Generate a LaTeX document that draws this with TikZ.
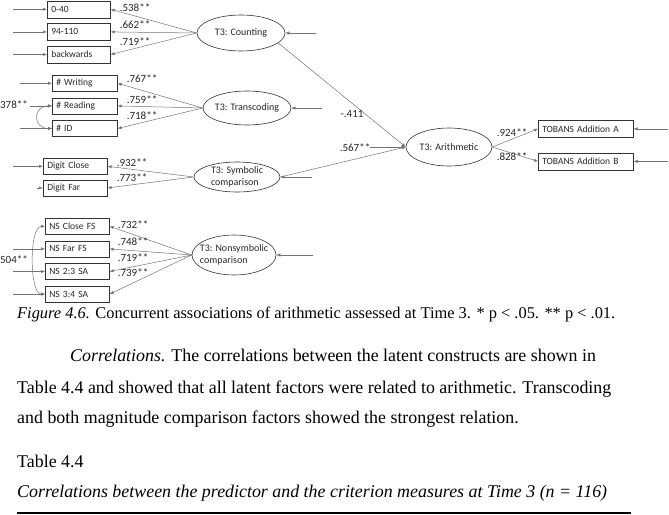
\documentclass[tikz,border=0pt]{standalone}
\usepackage{fontspec}
\setmainfont{Liberation Serif}
\newfontfamily\calibri{Carlito}
\usetikzlibrary{shapes.geometric, arrows.meta, positioning}

\begin{document}
\begin{tikzpicture}[
    x=1pt, y=-1pt,
    node distance=5pt,
    obs/.style={
        rectangle, draw=black!80, line width=0.6pt,
        text width=#1, minimum height=16pt, inner xsep=4pt, inner ysep=0pt,
        font=\calibri\fontsize{9.5}{11}\selectfont, align=left, text=black!85
    },
    latent/.style 2 args={
        ellipse, draw=black!80, line width=0.6pt,
        minimum width=#1, minimum height=#2, inner sep=0pt
    },
    lattext/.style={font=\calibri\fontsize{10}{12.5}\selectfont, align=left, text=black!85},
    coef/.style={font=\calibri\fontsize{11}{12}\selectfont, text=black!85, inner sep=0pt},
    arrow/.style={-{Latex[length=4pt,width=3.2pt]}, draw=black!55, line width=0.5pt},
    corr/.style={{Latex[length=4pt,width=3.2pt]}-{Latex[length=4pt,width=3.2pt]}, draw=black!55, line width=0.5pt},
    body/.style={font=\fontsize{17.9}{21}\selectfont, inner sep=0pt, anchor=base west},
    capt/.style={font=\fontsize{16.4}{19}\selectfont, inner sep=0pt, anchor=base west}
]
\useasboundingbox (0,0) rectangle (669,514);

% Counting
\node[obs=55, minimum height=17pt, anchor=north west] (cnt1) at (47,0.5) {0-40};
\node[obs=55, minimum height=17pt, below=5pt of cnt1] (cnt2) {94-110};
\node[obs=55, minimum height=17pt, below=5pt of cnt2] (cnt3) {backwards};
\node[latent={88}{36}, label={[lattext]center:T3: Counting}] (count) at (241,33) {};

% Transcoding
\node[obs=57, anchor=north west] (trn1) at (52,75) {\# Writing};
\node[obs=57, below=6pt of trn1] (trn2) {\# Reading};
\node[obs=57, below=6pt of trn2] (trn3) {\# ID};
\node[latent={88}{34}, label={[lattext]center:T3: Transcoding}] (trans) at (247,108) {};

% Symbolic comparison
\node[obs=56, anchor=north west] (sym1) at (43,158) {Digit Close};
\node[obs=56, below=5pt of sym1] (sym2) {Digit Far};
\node[latent={86}{30}, label={[lattext]center:T3: Symbolic\\comparison}] (symb) at (237,177) {};

% Nonsymbolic comparison
\node[obs=56, anchor=north west] (ns1) at (45,218) {NS Close FS};
\node[obs=56, below=6pt of ns1] (ns2) {NS Far FS};
\node[obs=56, below=6pt of ns2] (ns3) {NS 2:3 SA};
\node[obs=56, below=6pt of ns3] (ns4) {NS 3:4 SA};
\node[latent={84}{40}, label={[lattext]center:T3: Nonsymbolic\\comparison}] (nsym) at (234,255) {};

% Arithmetic
\node[latent={86}{38}, label={[lattext]center:T3: Arithmetic}] (arith) at (449,147) {};
\node[obs=87, minimum height=17pt, anchor=north west] (tobA) at (538,120) {TOBANS Addition A};
\node[obs=87, minimum height=17pt, below=15pt of tobA] (tobB) {TOBANS Addition B};

% Error terms
\foreach \n/\d in {cnt1/34pt, cnt2/34pt, cnt3/34pt, trn1/32pt, trn2/22pt, trn3/32pt,
                   sym1/30pt, sym2/6pt, ns2/32pt, ns3/32pt, ns4/32pt} {
    \coordinate[left=\d of \n] (e\n);
    \draw[arrow] (e\n) -- (\n);
}
\foreach \n/\d in {count/31pt, trans/31pt, symb/32pt, nsym/37pt, tobA/34pt, tobB/34pt} {
    \coordinate[right=\d of \n] (e\n);
    \draw[arrow] (e\n) -- (\n);
}
\coordinate[left=36pt of arith] (earith);
\draw[arrow] (earith) -- (arith);

% Loadings
\foreach \n in {cnt1, cnt2, cnt3} \draw[arrow] (count.west) -- (\n.east);
\foreach \n in {trn1, trn2, trn3} \draw[arrow] (trans.west) -- (\n.east);
\foreach \n in {sym1, sym2} \draw[arrow] (symb.west) -- (\n.east);
\foreach \n in {ns1, ns2, ns3, ns4} \draw[arrow] (nsym.west) -- (\n.east);
\draw[arrow] (arith.east) -- (tobA.west);
\draw[arrow] (arith.east) -- (tobB.west);

% Paths to arithmetic
\draw[arrow] (count.-15) -- (arith.west);
\draw[arrow] (symb.east) -- (arith.west);

% Correlated errors
\draw[corr] (trn2.west) to[out=180, in=180, looseness=2.2] (trn3.west);
\draw[corr] (ns1.west) to[out=180, in=180, looseness=0.6] (ns4.west);

% Coefficients
\node[coef] (k1) at (135,8) {.538**};
\node[coef] (k2) at (135,25) {.662**};
\node[coef] (k3) at (135,42) {.719**};
\node[coef] (k4) at (142,79) {.767**};
\node[coef] (k5) at (142,100) {.759**};
\node[coef] (k6) at (142,116) {.718**};
\node[coef] (k7) at (132,163) {.932**};
\node[coef] (k8) at (132,178) {.773**};
\node[coef] (k9) at (133,225) {.732**};
\node[coef] (k10) at (133,242) {.748**};
\node[coef] (k11) at (133,258) {.719**};
\node[coef] (k12) at (133,273) {.739**};
\node[coef] (k13) at (512,133) {.924**};
\node[coef] (k14) at (512,157) {.828**};
\node[coef] (k15) at (352,114) {-.411};
\node[coef] (k16) at (355,148) {.567**};
\node[coef, anchor=east] (k17) at (28,105) {.378**};
\node[coef, anchor=east] (k18) at (28,260) {.504**};

% Text below the figure
\node[capt] (cap) at (17,318) {\textit{Figure 4.6.} Concurrent associations of arithmetic assessed at Time 3. * p < .05. ** p < .01.};
\node[body] (par1) at (70,361) {\textit{Correlations.} The correlations between the latent constructs are shown in};
\node[body] (par2) at (17,393) {Table 4.4 and showed that all latent factors were related to arithmetic. Transcoding};
\node[body] (par3) at (17,423) {and both magnitude comparison factors showed the strongest relation.};
\node[body] (tab) at (17,467) {Table 4.4};
\node[body] (tabcap) at (17,497) {\textit{Correlations between the predictor and the criterion measures at Time 3 (n = 116)}};
\coordinate (rule1) at (17,513);
\coordinate (rule2) at (631,513);
\draw[line width=1.6pt] (rule1) -- (rule2);

\end{tikzpicture}
\end{document}
